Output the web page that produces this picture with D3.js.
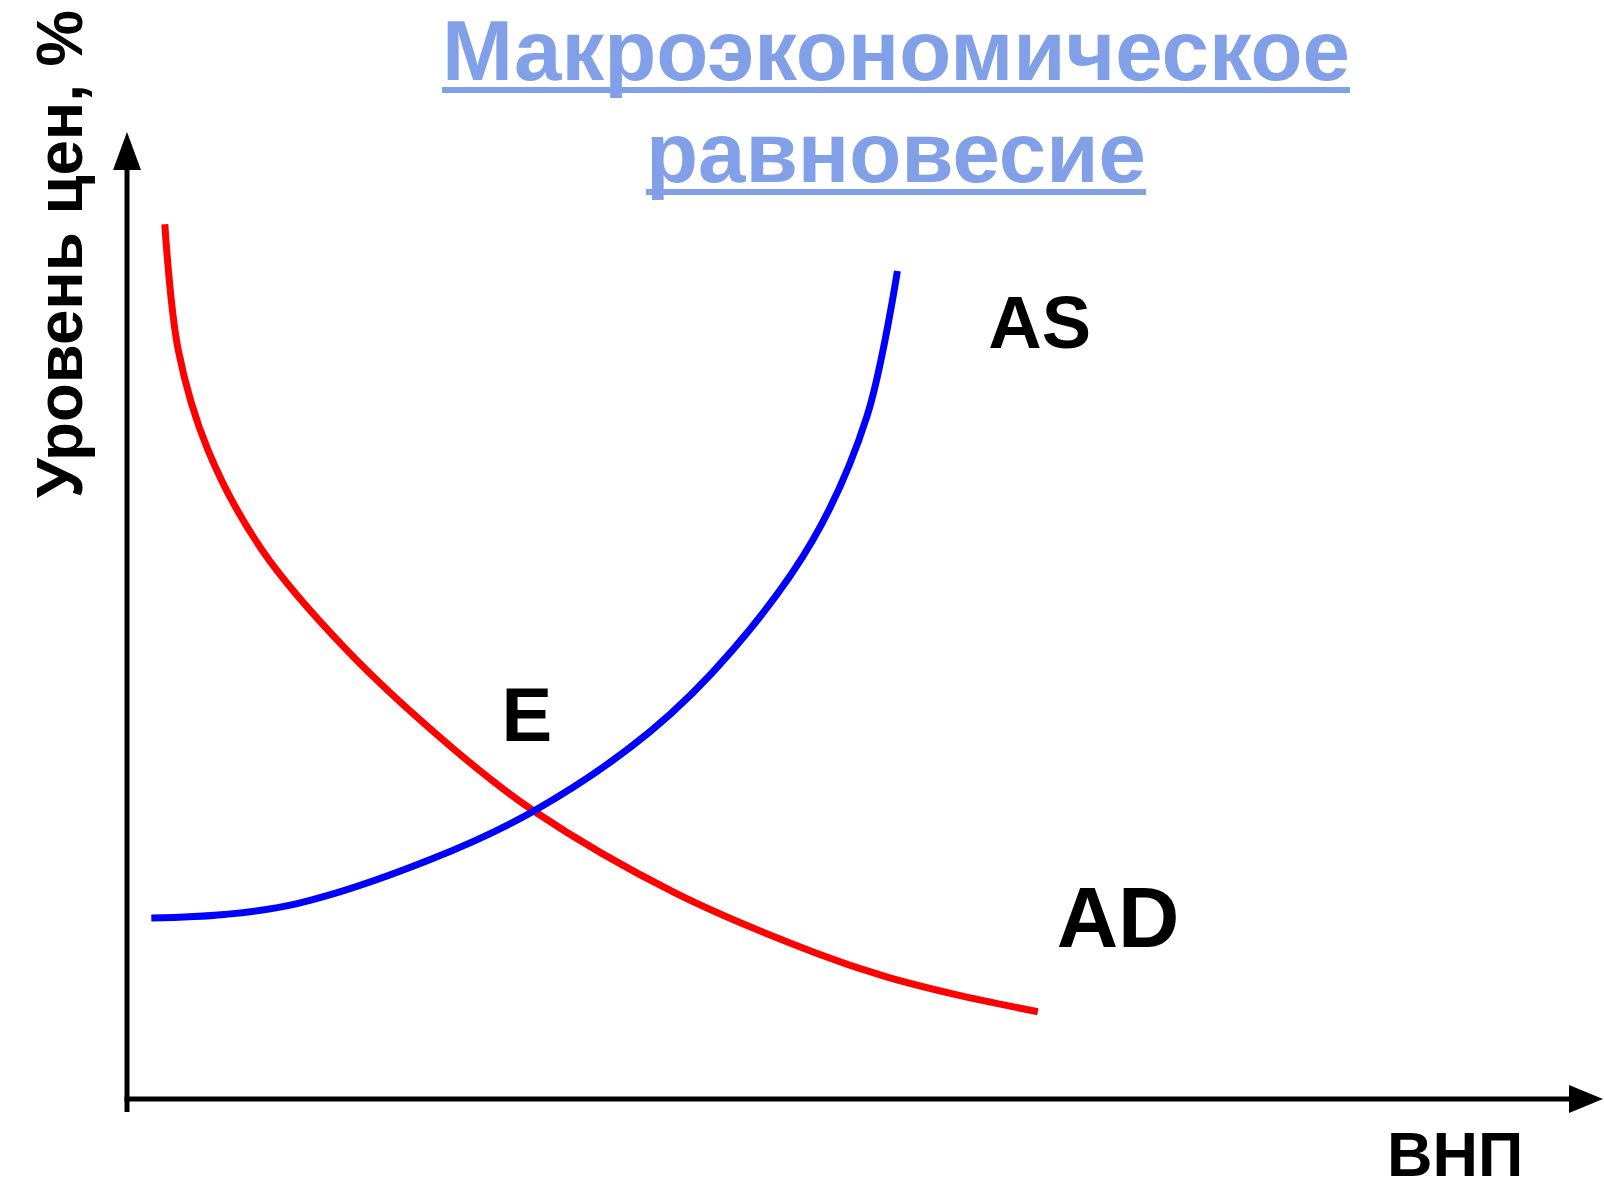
<!DOCTYPE html>
<html>
<head>
<meta charset="utf-8">
<script src="https://cdn.jsdelivr.net/npm/d3@7"></script>
<style>
  html, body { margin: 0; padding: 0; background: #fff; }
  svg { display: block; }
  text { font-family: "Liberation Sans", Arial, sans-serif; font-weight: bold; }
</style>
</head>
<body>
<svg id="chart" width="1604" height="1184"></svg>
<script>
// ---- data (in abstract chart units 0..100) ----
const titleLines = ["Макроэкономическое", "равновесие"];
const yAxisLabel = "Уровень цен, %";
const xAxisLabel = "ВНП";

// aggregate demand (AD) curve
const adX = [4.2, 5.7, 9.0, 15.0, 24.4, 36.4, 45.2, 60.9, 76.6, 84.3, 92.1, 101.2];
const adY = [97.2, 83.2, 72.1, 61.0, 49.9, 38.8, 32.0, 22.9, 16.2, 13.6, 11.6, 9.7];

// aggregate supply (AS) curve
const asX = [2.7, 10.8, 18.9, 33.7, 45.2, 58.1, 67.3, 76.2, 82.2, 85.6];
const asY = [20.1, 20.5, 21.7, 26.6, 32.0, 40.8, 49.9, 62.1, 75.8, 92.0];

const labelNames = ["AS", "AD", "E"];
const labelX = [95.7, 103.3, 41.6];
const labelY = [83.4, 16.9, 39.8];

// ---- layout ----
const svg = d3.select("#chart");
const x = d3.scaleLinear().domain([0, 100]).range([127, 1027]);
const y = d3.scaleLinear().domain([0, 100]).range([1099, 199]);

// axes
const axisColor = "#000";
svg.append("line")
  .attr("x1", x(0)).attr("x2", x(0))
  .attr("y1", y(0) + 13).attr("y2", 168)
  .attr("stroke", axisColor).attr("stroke-width", 5);
svg.append("path")
  .attr("d", `M${x(0)},132 L${x(0) + 14},170 L${x(0) - 14},170 Z`)
  .attr("fill", axisColor);

svg.append("line")
  .attr("x1", x(0) - 2.5).attr("x2", 1572)
  .attr("y1", y(0)).attr("y2", y(0))
  .attr("stroke", axisColor).attr("stroke-width", 5);
svg.append("path")
  .attr("d", `M1603,${y(0)} L1569,${y(0) - 14} L1569,${y(0) + 14} Z`)
  .attr("fill", axisColor);

// curves
const line = d3.line()
  .x(d => x(d[0])).y(d => y(d[1]))
  .curve(d3.curveCatmullRom.alpha(0.5));

const adPts = adX.map((v, i) => [v, adY[i]]);
const asPts = asX.map((v, i) => [v, asY[i]]);

svg.append("path").datum(adPts)
  .attr("d", line).attr("fill", "none")
  .attr("stroke", "#ff0000").attr("stroke-width", 7);
svg.append("path").datum(asPts)
  .attr("d", line).attr("fill", "none")
  .attr("stroke", "#0000ff").attr("stroke-width", 7);

// curve labels
const labelSizes = [74, 85, 76];
labelNames.forEach((t, i) => {
  svg.append("text")
    .attr("x", x(labelX[i])).attr("y", y(labelY[i]))
    .attr("font-size", labelSizes[i])
    .attr("fill", "#000")
    .text(t);
});

// title
const titleColor = "#82A0E8";
const titleBase = [80, 182];
const titleWidth = [908, 500];
const titleCx = 896;
titleLines.forEach((t, i) => {
  svg.append("text")
    .attr("x", titleCx).attr("y", titleBase[i])
    .attr("text-anchor", "middle")
    .attr("font-size", 86)
    .attr("fill", titleColor)
    .attr("textLength", titleWidth[i])
    .attr("lengthAdjust", "spacingAndGlyphs")
    .text(t);
  svg.append("rect")
    .attr("x", titleCx - titleWidth[i] / 2)
    .attr("y", titleBase[i] + 7)
    .attr("width", titleWidth[i])
    .attr("height", 6)
    .attr("fill", titleColor);
});

// axis labels
svg.append("text")
  .attr("transform", "translate(82,498) rotate(-90)")
  .attr("font-size", 64)
  .attr("fill", "#000")
  .attr("textLength", 488)
  .attr("lengthAdjust", "spacingAndGlyphs")
  .text(yAxisLabel);

svg.append("text")
  .attr("x", 1387).attr("y", 1176)
  .attr("font-size", 63)
  .attr("fill", "#000")
  .text(xAxisLabel);
</script>
</body>
</html>
